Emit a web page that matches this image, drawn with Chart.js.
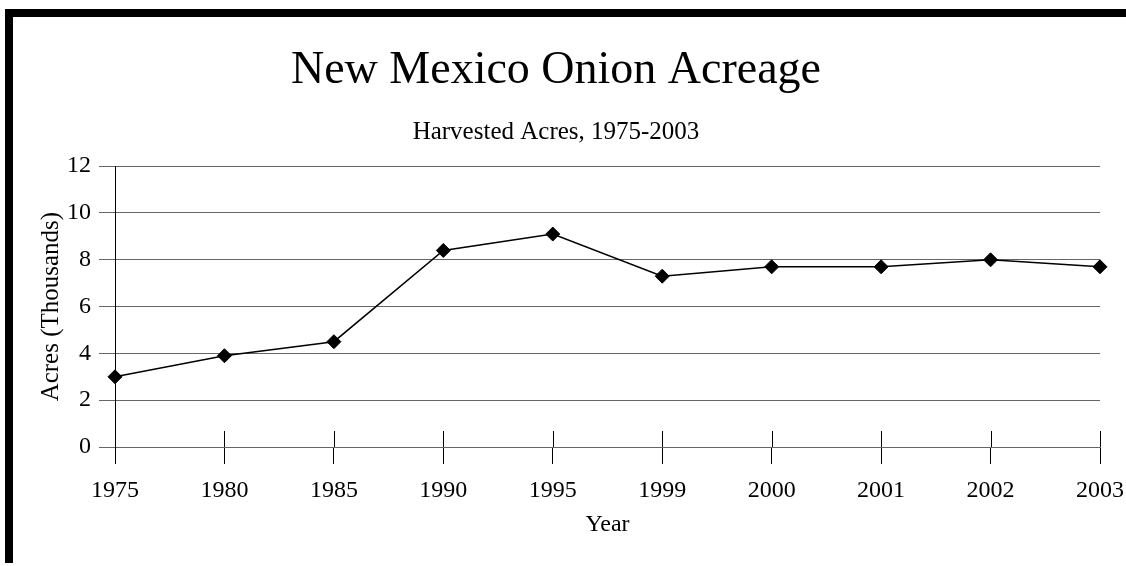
<!DOCTYPE html>
<html>
<head>
<meta charset="utf-8">
<script src="https://cdn.jsdelivr.net/npm/chart.js@4/dist/chart.umd.min.js"></script>
<style>
  html, body { margin: 0; padding: 0; background: #fff; }
  canvas { display: block; }
</style>
</head>
<body>
<canvas id="onionChart" width="1126" height="566"></canvas>
<script>
const years = ['1975', '1980', '1985', '1990', '1995', '1999', '2000', '2001', '2002', '2003'];
const acres = [3.0, 3.9, 4.5, 8.4, 9.1, 7.3, 7.7, 7.7, 8.0, 7.7];
const yMin = 0;
const yMax = 12;
const yStep = 2;

const serif = "'Liberation Serif', 'Times New Roman', serif";
Chart.defaults.color = '#000';
Chart.defaults.font.family = serif;

// thick frame on the left and top edges
const framePlugin = {
  id: 'frame',
  beforeDraw(chart) {
    const ctx = chart.ctx;
    ctx.save();
    ctx.fillStyle = '#fff';
    ctx.fillRect(0, 0, chart.width, chart.height);
    ctx.fillStyle = '#000';
    ctx.fillRect(5, 9, 8, chart.height - 12);
    ctx.fillRect(5, 9, chart.width - 5, 8);
    ctx.restore();
  }
};

// x tick marks cross the axis: draw the part above it
const crossTicks = {
  id: 'crossTicks',
  beforeDatasetsDraw(chart) {
    const x = chart.scales.x;
    const ctx = chart.ctx;
    ctx.save();
    ctx.strokeStyle = '#000';
    ctx.lineWidth = 1;
    ctx.beginPath();
    x.ticks.forEach((t, i) => {
      const px = Math.round(x.getPixelForTick(i)) + 0.5;
      ctx.moveTo(px, x.top - 16);
      ctx.lineTo(px, x.top);
    });
    ctx.stroke();
    ctx.restore();
  }
};

new Chart(document.getElementById('onionChart'), {
  type: 'line',
  data: {
    labels: years,
    datasets: [{
      label: 'Acres',
      data: acres,
      borderColor: '#000',
      borderWidth: 1.5,
      backgroundColor: '#000',
      pointStyle: 'rectRot',
      pointRadius: 7,
      pointBorderWidth: 1,
      pointBackgroundColor: '#000',
      pointBorderColor: '#000',
      tension: 0,
      fill: false
    }]
  },
  options: {
    responsive: false,
    animation: false,
    layout: { padding: { left: 12, right: 26, top: 16, bottom: 0 } },
    plugins: {
      legend: { display: false },
      tooltip: { enabled: false },
      title: {
        display: true,
        text: 'New Mexico Onion Acreage',
        color: '#000',
        font: { family: serif, size: 46, weight: 'normal' },
        padding: { top: 27, bottom: 0 }
      },
      subtitle: {
        display: true,
        text: 'Harvested Acres, 1975-2003',
        color: '#000',
        font: { family: serif, size: 25, weight: 'normal' },
        padding: { top: 19, bottom: 19 }
      }
    },
    scales: {
      x: {
        afterFit(scale) {
          scale.height = 119;
          scale.paddingRight = 0;
        },
        grid: {
          drawOnChartArea: false,
          drawTicks: true,
          tickLength: 17,
          color: '#000'
        },
        border: { display: true, color: '#666' },
        ticks: {
          color: '#000',
          font: { family: serif, size: 24 },
          padding: 12,
          maxRotation: 0,
          autoSkip: false
        },
        title: {
          display: true,
          text: 'Year',
          color: '#000',
          font: { family: serif, size: 24 },
          padding: { top: 0, bottom: 27 }
        }
      },
      y: {
        min: yMin,
        max: yMax,
        afterFit(scale) { scale.width = 103; },
        grid: {
          color: '#666',
          drawTicks: true,
          tickLength: 16
        },
        border: { display: true, color: '#000' },
        ticks: {
          stepSize: yStep,
          color: '#000',
          font: { family: serif, size: 24 },
          padding: 8
        },
        title: {
          display: true,
          text: 'Acres (Thousands)',
          color: '#000',
          font: { family: serif, size: 25 },
          padding: { top: 24, bottom: 0 }
        }
      }
    }
  },
  plugins: [framePlugin, crossTicks]
});
</script>
</body>
</html>
